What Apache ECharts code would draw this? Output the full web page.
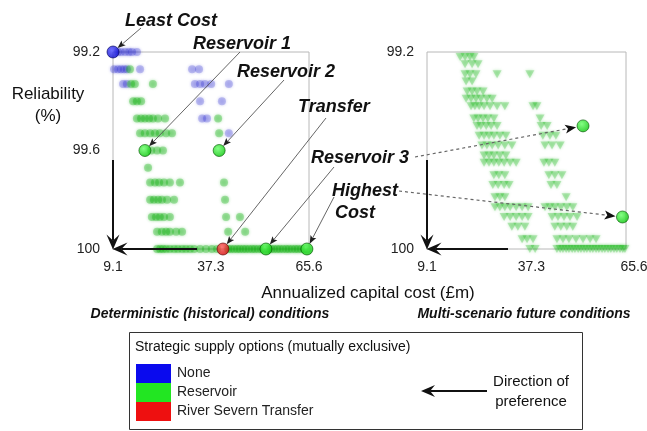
<!DOCTYPE html>
<html><head><meta charset="utf-8">
<script src="https://cdn.jsdelivr.net/npm/echarts@6/dist/echarts.min.js"></script>
<style>html,body{margin:0;padding:0;background:#fff}#c{width:647px;height:431px}</style>
</head><body><div id="c"></div>
<script>
// Axis ticks
const costTicks = [9.1, 37.3, 65.6];
const histReliabilityTicks = [99.2, 99.6, 100];
const futureReliabilityTicks = [99.2, 100];

// Deterministic (historical) conditions: reliability levels and the costs found at each level
const histRows = [99.2, 99.27, 99.33, 99.4, 99.47, 99.53, 99.6, 99.67, 99.73, 99.8, 99.87, 99.93, 100];
const histNoneCosts = [
  [10.5, 11.4, 12.6, 13.7, 14.6, 16.0],
  [9.4, 10.5, 11.4, 12.3, 13.1, 16.9, 31.9, 33.9],
  [12.0, 13.1, 32.7, 34.2, 35.6, 37.4, 42.5],
  [34.2, 40.5],
  [34.8, 36.2],
  [42.5],
  [], [], [], [], [], [], []
];
const histReservoirCosts = [
  [],
  [14.0],
  [14.3, 15.4, 20.6],
  [14.9, 16.0, 17.2],
  [16.0, 17.2, 18.3, 19.5, 20.6, 22.1, 24.1, 39.4],
  [16.9, 18.3, 19.8, 21.2, 22.6, 24.4, 26.1, 39.7],
  [20.1, 21.8, 23.5],
  [19.2],
  [19.8, 21.2, 22.4, 23.8, 25.5, 28.4, 41.1],
  [19.8, 20.9, 22.1, 23.2, 24.7, 26.7, 41.4],
  [20.3, 21.5, 22.6, 23.8, 25.5, 41.7, 45.7],
  [21.8, 23.2, 24.4, 25.5, 27.3, 29.0, 42.3, 47.2],
  [21.8, 22.7, 23.5, 24.4, 25.5, 26.7, 27.8, 29.0, 30.1, 31.3, 32.5, 34.2, 35.9, 37.6, 39.1,
   42.3, 43.1, 44.0, 44.9, 45.7, 46.6, 47.4, 48.3, 49.2, 50.0, 50.9, 51.8, 52.6, 53.8, 54.7,
   55.5, 56.4, 57.2, 58.1, 59.0, 59.8, 60.7, 61.6, 62.4, 63.3, 64.2, 65.0]
];

// Multi-scenario future conditions
const futureRows = [99.22, 99.25, 99.29, 99.32, 99.36, 99.39, 99.42, 99.47, 99.50, 99.54, 99.58,
  99.62, 99.65, 99.70, 99.74, 99.79, 99.83, 99.87, 99.91, 99.96, 100];
const futureReservoirCosts = [
  [18.5, 19.9, 21.3, 22.4],
  [19.9, 21.9, 23.6],
  [19.9, 21.3, 23.0, 29.0, 38.3],
  [20.2, 21.9],
  [20.5, 21.9, 23.3, 25.0],
  [20.2, 21.6, 23.0, 24.4, 26.1, 27.6],
  [21.6, 22.7, 23.9, 25.3, 27.0, 29.0, 31.2, 39.2, 40.3],
  [22.4, 23.6, 25.0, 26.4, 28.1, 41.2],
  [23.3, 24.4, 25.9, 27.3, 29.0, 41.5, 43.2],
  [23.9, 25.3, 26.7, 28.1, 29.8, 31.5, 42.0, 44.0, 45.7],
  [24.7, 26.1, 27.6, 29.3, 31.2, 33.2, 42.6, 44.6, 46.9],
  [25.3, 26.7, 28.1, 29.8, 31.5],
  [25.3, 26.7, 28.1, 29.5, 31.0, 32.7, 34.4, 42.3, 43.7, 45.4],
  [28.1, 29.5, 31.2, 43.7, 45.4, 47.4],
  [27.8, 29.3, 31.0, 32.4, 44.3, 46.0],
  [28.4, 29.8, 31.2, 48.6],
  [28.4, 29.8, 31.2, 32.7, 34.4, 36.1, 37.8, 42.6, 44.0, 45.4, 47.1, 48.8, 50.5],
  [31.0, 32.7, 34.4, 36.1, 37.8, 44.6, 46.3, 48.0, 49.7, 51.7],
  [33.2, 34.9, 36.9, 45.4, 47.1, 48.8, 50.5],
  [36.1, 37.5, 39.2, 46.0, 47.7, 49.4, 51.4, 53.4, 55.4, 57.1],
  [38.3, 39.8, 46.0, 46.9, 47.7, 48.6, 49.4, 50.3, 51.1, 52.0, 52.8, 53.7, 54.5, 55.4, 56.2,
   57.1, 57.9, 58.8, 59.6, 60.5, 61.3, 62.2, 63.0, 63.9, 64.7, 65.3]
];

// Highlighted portfolios
const keyLabels = ['Least Cost', 'Reservoir 1', 'Reservoir 2', 'Transfer', 'Reservoir 3', 'Highest Cost'];
const keyOptions = ['None', 'Reservoir', 'Reservoir', 'River Severn Transfer', 'Reservoir', 'Reservoir'];
const keyHistCost = [9.1, 18.3, 39.7, 40.8, 53.2, 65.0];
const keyHistReliability = [99.2, 99.6, 99.6, 100, 100, 100];
const futureKeyLabels = ['Reservoir 3', 'Highest Cost'];
const futureKeyCost = [53.4, 64.6];
const futureKeyReliability = [99.50, 99.87];

const optionNames = ['None', 'Reservoir', 'River Severn Transfer'];
const optionColors = ['#0a0aee', '#22e622', '#ee1010'];

const FONT = '"Liberation Sans", Arial, sans-serif';

function rowsToPoints(rows, costs) {
  const out = [];
  rows.forEach((r, i) => costs[i].forEach(c => out.push([c, r])));
  return out;
}

function sphere(light, mid) {
  return { type: 'radial', x: 0.4, y: 0.35, r: 0.7,
    colorStops: [{ offset: 0, color: light }, { offset: 1, color: mid }] };
}
const sphereStyle = {
  'None': { color: sphere('#4a4aff', '#0000c8'), borderColor: '#00005a', borderWidth: 0.8 },
  'Reservoir': { color: sphere('#66ff66', '#00c000'), borderColor: '#005500', borderWidth: 0.8 },
  'River Severn Transfer': { color: sphere('#ff5a5a', '#d00000'), borderColor: '#5a0000', borderWidth: 0.8 }
};

function keySeries(option) {
  const pts = [];
  keyOptions.forEach((o, i) => { if (o === option) pts.push([keyHistCost[i], keyHistReliability[i], keyLabels[i]]); });
  return { type: 'scatter', name: option, xAxisIndex: 0, yAxisIndex: 0, z: 5,
    symbolSize: 12, itemStyle: sphereStyle[option], data: pts };
}

const axisLabelStyle = { fontFamily: FONT, fontSize: 14, color: '#222' };
function xAxisFor(grid) {
  const label = Object.assign({ customValues: costTicks, margin: 11 }, axisLabelStyle);
  if (grid === 1) {
    // the future panel's labels sit a little right of their ticks
    label.formatter = v => (v > 60 ? '{far|65.6}' : v > 30 ? '{mid|37.3}' : v.toFixed(1));
    label.rich = { far: Object.assign({ padding: [0, 0, 0, 16] }, axisLabelStyle),
                   mid: Object.assign({ padding: [0, 0, 0, 10] }, axisLabelStyle) };
  } else {
    label.formatter = v => v.toFixed(1);
  }
  return { type: 'value', gridIndex: grid, min: 9.1, max: 65.6,
    axisLine: { show: false }, axisTick: { show: false }, splitLine: { show: false }, axisLabel: label };
}
function yAxisFor(grid, ticks) {
  return { type: 'value', gridIndex: grid, min: 99.2, max: 100, inverse: true,
    axisLine: { show: false }, axisTick: { show: false }, splitLine: { show: false },
    axisLabel: Object.assign({ customValues: ticks, margin: 13,
      formatter: v => (v === 100 ? '100' : v.toFixed(1)) }, axisLabelStyle) };
}

const chart = echarts.init(document.getElementById('c'), null, { renderer: 'canvas' });

chart.setOption({
  animation: false,
  backgroundColor: '#fff',
  grid: [
    { left: 113, top: 52, width: 196, height: 197, show: true, borderColor: '#b8b8b8', borderWidth: 1,
      containLabel: false, outerBoundsMode: 'none' },
    { left: 427, top: 52, width: 199, height: 197, show: true, borderColor: '#b8b8b8', borderWidth: 1,
      containLabel: false, outerBoundsMode: 'none' }
  ],
  xAxis: [xAxisFor(0), xAxisFor(1)],
  yAxis: [yAxisFor(0, histReliabilityTicks), yAxisFor(1, futureReliabilityTicks)],
  legend: {
    orient: 'vertical', left: 136, top: 364, padding: 0, itemGap: 0,
    itemWidth: 35, itemHeight: 19, icon: 'rect', symbolRotate: 0, selectedMode: false,
    textStyle: { fontFamily: FONT, fontSize: 14, color: '#222', padding: [0, 0, 0, 1] },
    data: optionNames.map((n, i) => ({ name: n, itemStyle: { color: optionColors[i], opacity: 1, borderWidth: 0, shadowBlur: 0 } }))
  },
  series: [
    { type: 'scatter', name: 'None', xAxisIndex: 0, yAxisIndex: 0, symbolSize: 8, z: 2,
      itemStyle: { color: '#2020cc', opacity: 0.22, shadowBlur: 3, shadowColor: '#2020cc' },
      data: rowsToPoints(histRows, histNoneCosts) },
    { type: 'scatter', name: 'Reservoir', xAxisIndex: 0, yAxisIndex: 0, symbolSize: 8, z: 2,
      itemStyle: { color: '#0fae0f', opacity: 0.3, shadowBlur: 3, shadowColor: '#0fae0f' },
      data: rowsToPoints(histRows, histReservoirCosts) },
    { type: 'scatter', name: 'Reservoir', xAxisIndex: 1, yAxisIndex: 1, symbol: 'triangle', symbolRotate: 180,
      symbolSize: [9, 8], z: 2,
      itemStyle: { color: '#0cb40c', opacity: 0.25, shadowBlur: 3, shadowColor: '#0cb40c' },
      data: rowsToPoints(futureRows, futureReservoirCosts) },
    keySeries('None'),
    keySeries('Reservoir'),
    keySeries('River Severn Transfer'),
    { type: 'scatter', name: 'Reservoir', xAxisIndex: 1, yAxisIndex: 1, z: 5, symbolSize: 12,
      itemStyle: sphereStyle['Reservoir'],
      data: futureKeyCost.map((c, i) => [c, futureKeyReliability[i], futureKeyLabels[i]]) }
  ]
});

// ---- annotations, arrows and legend frame ----
const px = (g, c, r) => chart.convertToPixel({ gridIndex: g }, [c, r]);
const els = [];

function text(str, x, y, font, align) {
  els.push({ type: 'text', z: 20, silent: true,
    style: { text: str, x: x, y: y, font: font, fill: '#111',
      align: align || 'left', verticalAlign: 'middle', textAlign: align || 'left', textVerticalAlign: 'middle' } });
}

// Straight arrow from a start point toward a target, stopping `gap` px short of it
function arrow(from, target, gap, o) {
  const dx = target[0] - from[0], dy = target[1] - from[1];
  const len = Math.hypot(dx, dy), ux = dx / len, uy = dy / len, nx = -uy, ny = ux;
  const tip = [target[0] - ux * gap, target[1] - uy * gap];
  const back = [tip[0] - ux * o.head, tip[1] - uy * o.head];
  const notch = [tip[0] - ux * o.head * (o.notch || 1), tip[1] - uy * o.head * (o.notch || 1)];
  els.push({ type: 'line', z: 15, silent: true,
    shape: { x1: from[0], y1: from[1], x2: notch[0], y2: notch[1] },
    style: { stroke: o.color, lineWidth: o.width, lineDash: o.dash || null } });
  els.push({ type: 'polygon', z: 16, silent: true,
    shape: { points: [tip, [back[0] + nx * o.half, back[1] + ny * o.half], notch, [back[0] - nx * o.half, back[1] - ny * o.half]] },
    style: { fill: o.headColor || o.color } });
}

const thin = { color: '#555', width: 0.9, head: 8, half: 3.2, notch: 0.8, headColor: '#222' };
const dashed = { color: '#666', width: 1.2, dash: [3, 3], head: 11, half: 4.5, notch: 0.75, headColor: '#111' };
const bold = { color: '#111', width: 2, head: 15, half: 6.5, notch: 0.6 };

const keyPx = keyHistCost.map((c, i) => px(0, c, keyHistReliability[i]));
const fPx = futureKeyCost.map((c, i) => px(1, c, futureKeyReliability[i]));

arrow([141, 28], keyPx[0], 6, thin);
arrow([240, 52], keyPx[1], 6, thin);
arrow([284, 80], keyPx[2], 6, thin);
arrow([326, 118], keyPx[3], 6, thin);
arrow([334, 167], keyPx[4], 6, thin);
arrow([334, 197], keyPx[5], 6, thin);
arrow([415, 157], fPx[0], 7, dashed);
arrow([399, 191], fPx[1], 7, dashed);

// "direction of preference" arrows along the left and bottom edges of each panel
[[113, 249, 197], [427, 249, 508]].forEach(([x0, y0, xEnd]) => {
  arrow([x0, 160], [x0, y0 + 0.5], 0, bold);
  arrow([xEnd, y0], [x0 - 0.5, y0], 0, bold);
});

const labelFont = 'italic bold 18px ' + FONT;
text('Least Cost', 125, 21, labelFont);
text('Reservoir 1', 193, 44, labelFont);
text('Reservoir 2', 237, 72, labelFont);
text('Transfer', 298, 107, labelFont);
text('Reservoir 3', 311, 158, labelFont);
text('Highest', 332, 191, labelFont);
text('Cost', 335, 213, labelFont);

const titleFont = '17px ' + FONT;
text('Reliability', 48, 94, titleFont, 'center');
text('(%)', 48, 116, titleFont, 'center');
text('Annualized capital cost (£m)', 368, 293, titleFont, 'center');
text('Deterministic (historical) conditions', 210, 314, 'italic bold 14px ' + FONT, 'center');
text('Multi-scenario future conditions', 524, 314, 'italic bold 14px ' + FONT, 'center');

// legend frame
els.push({ type: 'rect', z: 1, silent: true, shape: { x: 129.5, y: 332.5, width: 453, height: 97 },
  style: { fill: 'none', stroke: '#333', lineWidth: 1 } });
text('Strategic supply options (mutually exclusive)', 135, 347, '14px ' + FONT);
arrow([487, 391], [421, 391], 0, { color: '#111', width: 2, head: 14, half: 6, notch: 0.65 });
text('Direction of', 531, 382, '15px ' + FONT, 'center');
text('preference', 531, 402, '15px ' + FONT, 'center');

chart.setOption({ graphic: { elements: els } });
</script>
</body></html>
